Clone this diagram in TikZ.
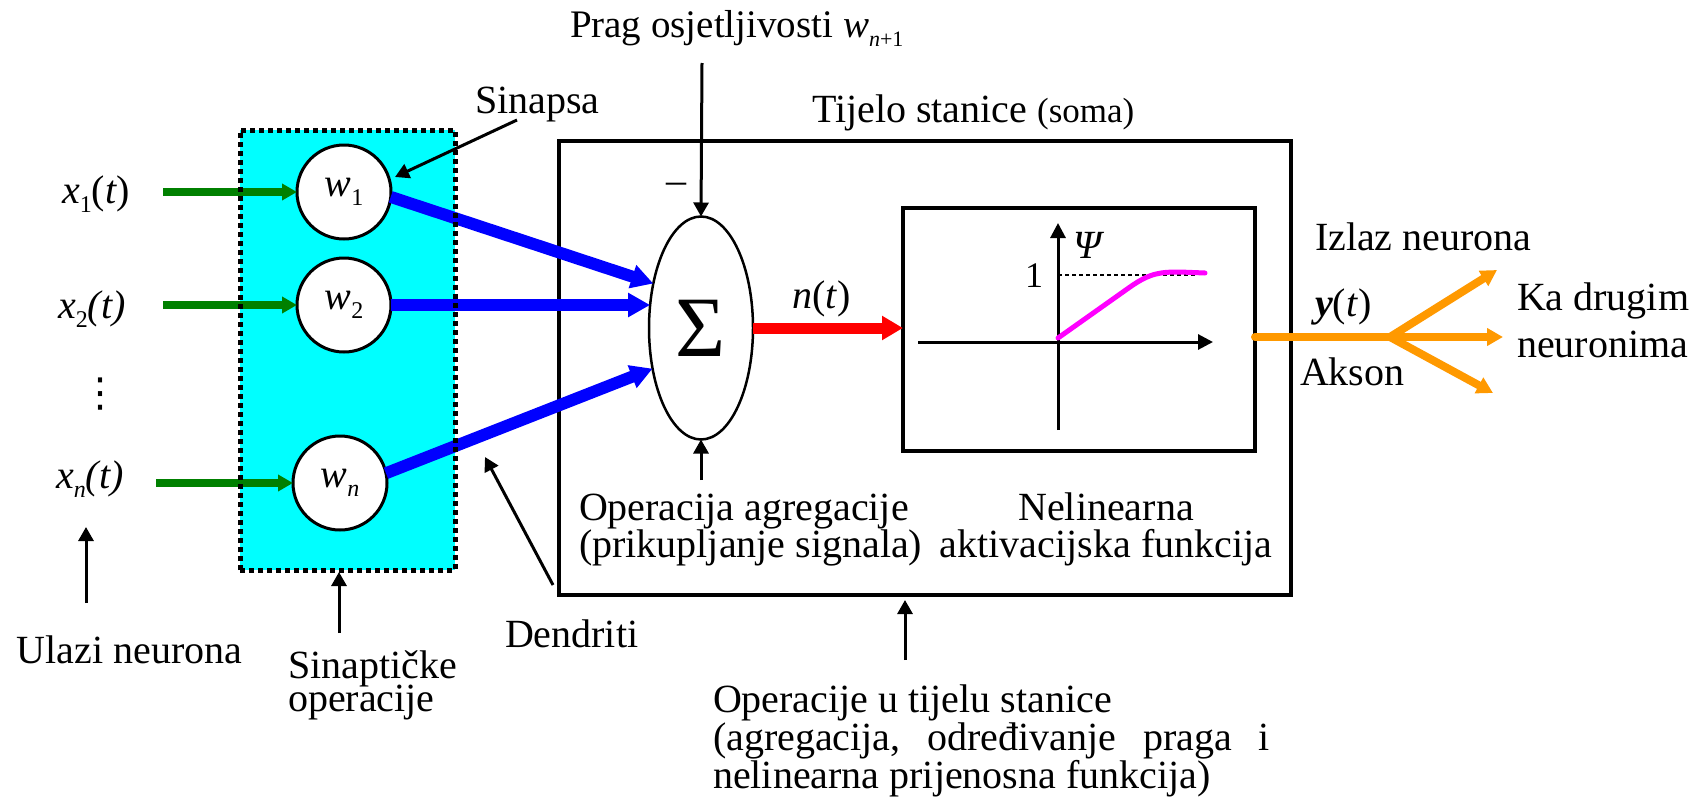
\documentclass[tikz,border=0pt]{standalone}
\usepackage{fontspec}
\setmainfont{Liberation Serif}
\newfontfamily\dejavu{DejaVu Sans}
\usetikzlibrary{arrows.meta,shapes.geometric}
\definecolor{mycyan}{RGB}{0,255,255}
\definecolor{myblue}{RGB}{0,0,255}
\definecolor{mygreen}{RGB}{0,128,0}
\definecolor{myred}{RGB}{255,0,0}
\definecolor{myorange}{RGB}{255,153,0}
\definecolor{mymagenta}{RGB}{255,0,255}
\newcommand\lo[2][12]{\raisebox{-4.5pt}{\fontsize{#1}{#1}\selectfont #2}}
\newcommand\lstack[2]{\vtop{\baselineskip=#1\lineskiplimit=-100pt\lineskip=0pt\halign{##\hfil\cr#2\crcr}}}
\newcommand\cstack[2]{\vtop{\baselineskip=#1\lineskiplimit=-100pt\lineskip=0pt\halign{\hfil##\hfil\cr#2\crcr}}}
\begin{document}
\begin{tikzpicture}[x=0.5pt,y=-0.5pt,
  every node/.style={inner sep=0pt, outer sep=0pt, font=\fontsize{20}{22}\selectfont},
  txt/.style={anchor=base west},
  ctxt/.style={anchor=base},
  wcirc/.style={circle, draw, line width=1.5pt, fill=white, minimum size=47pt},
  garrow/.style={draw=mygreen, line width=4pt, -{Triangle[length=7.5pt,width=8pt]}, mygreen},
  barrow/.style={draw=myblue, line width=6pt, -{Triangle[length=11pt,width=11.5pt]}, myblue},
  rarrow/.style={draw=myred, line width=5.5pt, -{Triangle[length=10.5pt,width=11.5pt]}, myred},
  oline/.style={draw=myorange, line width=4pt, line cap=round},
  oarrow/.style={draw=myorange, line width=4pt, -{Triangle[length=8pt,width=8.5pt]}, myorange},
  karrow/.style={draw=black, line width=1.5pt, -{Triangle[length=7pt,width=7.5pt]}},
  axarrow/.style={draw=black, line width=1.5pt, -{Triangle[length=7.5pt,width=7.5pt]}},
  ]
\fill[white] (0,0) rectangle (1702,803);
\useasboundingbox (0,0) rectangle (1702,803);

% boxes
\node[fill=mycyan, minimum width=107.5pt, minimum height=220pt] (syn) at (347.5,350) {};
\node[draw, line width=1.75pt, minimum width=366pt, minimum height=227pt] (soma) at (925,368) {};
\node[draw, line width=1.6pt, minimum width=176pt, minimum height=121.5pt] (act) at (1079,329.5) {};

% synapse circles
\node[wcirc] (w1) at (344,192) {\textit{w}\lo{1}};
\node[wcirc] (w2) at (344,305) {\textit{w}\lo{2}};
\node[wcirc] (wn) at (340,483) {\textit{w}\lo{\textit{n}}};

% summation
\node[ellipse, draw, line width=1.25pt, minimum width=52pt, minimum height=111.5pt] (sum) at (701,328) {\fontsize{43}{43}\selectfont Σ};

% inputs
\node[txt] (x1) at (62,203) {\textit{x}\lo{1}(\textit{t})};
\node[txt] (x2) at (58,318) {\textit{x}\lo{2}\textit{(t)}};
\node[txt] (xn) at (56,488) {\textit{x}\lo{\textit{n}}\textit{(t)}};
\node (dots) at (100,394) {\dejavu ⋮};

\coordinate (g1) at (163,192);
\coordinate (g2) at (163,305);
\coordinate (gn) at (156,483);
\draw[garrow] (g1) -- (w1.west);
\draw[garrow] (g2) -- (w2.west);
\draw[garrow] (gn) -- (wn.west);

% dendrites
\draw[barrow] (w1.-6) -- (sum.137);
\draw[barrow] (w2.east) -- (w2.east -| sum.156);
\draw[barrow] (wn.12) -- (sum.220);

% dotted border of the synapse block
\draw[line width=2.5pt, dash pattern=on 2.5pt off 2pt] (syn.south west) rectangle (syn.north east);

% threshold and aggregation
\node[txt] (prag) at (570,38) {\fontsize{19.5}{22}\selectfont Prag osjetljivosti \textit{w}\lo[11]{\textit{n}+1}};
\coordinate (thr) at (702,63);
\draw[karrow] (thr) -- (sum.north);
\node[ctxt] (minus) at (676,193) {–};
\coordinate (agg) at (701,480);
\draw[karrow] (agg) -- (sum.south);

% n(t)
\draw[rarrow] (sum.east) -- (sum.east -| act.west);
\node[txt] (nt) at (792,308) {\textit{n}(\textit{t})};

% activation plot
\coordinate (xa) at (918,342);
\coordinate (xb) at (1213,342);
\coordinate (ya) at (1058,430);
\coordinate (yb) at (1058,223);
\draw[axarrow] (xa) -- (xb);
\draw[axarrow] (ya) -- (yb);
\draw[line width=0.75pt, dash pattern=on 2pt off 1.5pt] (1058,275) -- (1195,275);
\draw[mymagenta, line width=2.5pt, line cap=round] (1058,338) -- (1130,287) .. controls (1150,273) and (1160,272) .. (1180,272) -- (1205,273);
\node[txt] (one) at (1025,287) {\fontsize{18}{18}\selectfont 1};
\node[txt] (psi) at (1073,258) {\textit{Ψ}};

% axon
\coordinate (br) at (1390,337);
\coordinate (o1) at (1497,270);
\coordinate (o2) at (1503,337);
\coordinate (o3) at (1493,393);
\draw[oline] (br -| act.east) -- (br);
\draw[oarrow] (br) -- (o1);
\draw[oarrow] (br) -- (o2);
\draw[oarrow] (br) -- (o3);
\node[txt] (izlaz) at (1315,250) {Izlaz neurona};
\node[txt] (yt) at (1315,316) {\textbf{\textit{y}}(\textit{t})};
\node[txt] (akson) at (1300,385) {Akson};
\node[txt] (ka) at (1517,310) {\lstack{23.5pt}{Ka drugim\cr neuronima}};

% labels
\node[txt] (tijelo) at (812,122) {Tijelo stanice {\fontsize{17.5}{18}\selectfont(soma)}};
\node[txt] (sinapsa) at (475,113) {Sinapsa};
\coordinate (sA) at (517,120);
\coordinate (sB) at (395,177);
\draw[karrow] (sA) -- (sB);

\node[txt] (agreg) at (579,520) {\lstack{18.5pt}{Operacija agregacije\cr (prikupljanje signala)}};
\node[ctxt] (nelin) at (1106,520) {\cstack{18.5pt}{Nelinearna\cr aktivacijska funkcija}};

\node[txt] (dendriti) at (505,647) {Dendriti};
\coordinate (dA) at (553,585);
\coordinate (dB) at (485,457);
\draw[karrow] (dA) -- (dB);

\node[txt] (ulazi) at (17,663) {Ulazi neurona};
\coordinate (uA) at (86,603);
\coordinate (uB) at (86,527);
\draw[karrow] (uA) -- (uB);

\node[txt] (sinop) at (288,678) {\lstack{16.5pt}{Sinaptičke\cr operacije}};
\coordinate (spA) at (339,633);
\coordinate (spB) at (339,572);
\draw[karrow] (spA) -- (spB);

\node[txt] (opts) at (713,712) {\lstack{19pt}{Operacije u tijelu stanice\cr \hbox to 278.5pt{(agregacija,\hfill određivanje\hfill praga\hfill i}\cr nelinearna prijenosna funkcija)}};
\coordinate (tA) at (905,660);
\coordinate (tB) at (905,600);
\draw[karrow] (tA) -- (tB);
\end{tikzpicture}
\end{document}
